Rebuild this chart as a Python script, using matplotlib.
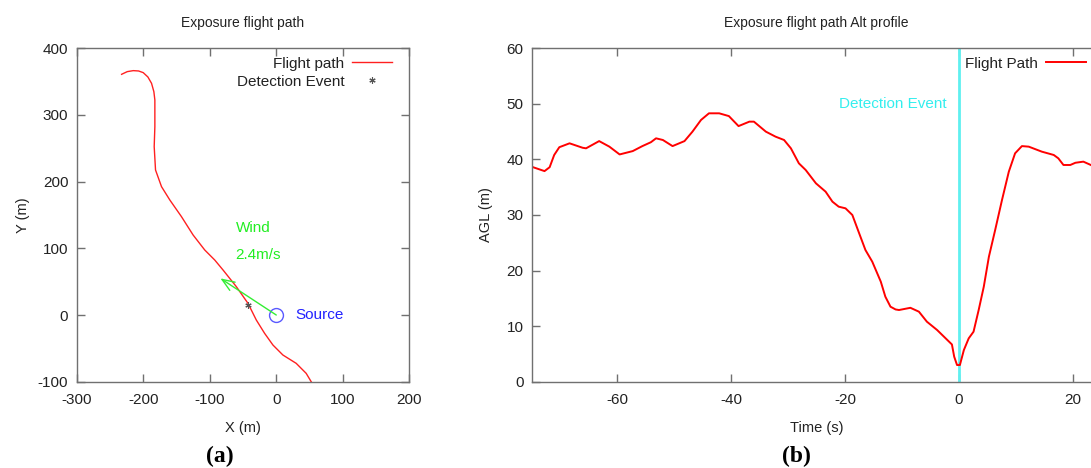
import matplotlib
matplotlib.use("Agg")
import matplotlib.pyplot as plt
from matplotlib.lines import Line2D

plt.rcParams['font.family'] = ['Liberation Sans', 'DejaVu Sans']
plt.rcParams['axes.unicode_minus'] = False

# ---- (a) flight path (x, y in metres) ----
path_x = [-232.5, -224, -215, -207, -200, -193, -187.5, -184, -182.5, -182.5, -183.5, -181.5,
          -172.5, -160, -142.5, -125, -107.5, -92.5, -80, -60, -42.5, -30, -17.5, -5, 10, 30,
          45, 52.5]
path_y = [361, 365, 366.5, 366, 363.5, 357, 347.5, 335, 322.5, 282.5, 252.5, 217.5,
          192.5, 172.5, 147.5, 120, 97.5, 82.5, 67.5, 42.5, 17.5, -7.5, -27.5, -45, -60, -72.5,
          -87.5, -100]
detect_xy = (-42.5, 15)
source_xy = (0, 0)
wind_tip = (-84, 55)
wind_label = "Wind"
wind_speed = "2.4m/s"

# ---- (b) altitude profile ----
t = [-75.1, -72.8, -71.9, -71.1, -70.2, -68.4, -66.1, -65.5, -63.2, -61.4, -59.6, -57.3,
     -55.6, -54.1, -53.2, -52.0, -50.3, -48.2, -46.8, -45.3, -43.9, -42.1, -40.4, -38.7,
     -36.8, -36.0, -33.9, -32.2, -30.7, -29.5, -28.1, -26.9, -25.1, -23.4, -22.2, -21.1,
     -19.9, -18.7, -17.5, -16.4, -15.2, -13.7, -12.9, -12.0, -11.1, -10.5, -8.5, -7.0,
     -5.6, -3.8, -2.6, -1.2, -0.8, -0.3, 0.2, 0.9, 1.75, 2.6, 3.5, 4.4, 5.3, 6.4, 7.6,
     8.8, 9.9, 11.1, 12.3, 14.6, 16.7, 17.5, 18.4, 19.6, 20.5, 21.9, 23.0, 24.0]
agl = [38.7, 37.9, 38.6, 40.8, 42.2, 42.9, 42.1, 42.0, 43.3, 42.3, 40.9, 41.5,
       42.4, 43.1, 43.8, 43.5, 42.4, 43.3, 45.0, 47.1, 48.3, 48.3, 47.8, 46.0,
       46.8, 46.8, 45.0, 44.1, 43.5, 42.0, 39.3, 38.1, 35.7, 34.2, 32.4, 31.5,
       31.2, 30.0, 26.7, 23.7, 21.6, 18.0, 15.3, 13.5, 13.0, 12.9, 13.3, 12.6,
       10.8, 9.3, 8.1, 6.7, 4.5, 3.0, 3.0, 5.7, 7.8, 9.0, 12.9, 17.1, 22.5, 27.3, 32.7,
       37.8, 41.1, 42.4, 42.3, 41.4, 40.8, 40.2, 39.0, 39.0, 39.4, 39.6, 39.1, 38.6]
detect_t = 0

W, H = 1091, 468
fig = plt.figure(figsize=(W / 100, H / 100), dpi=100)

spine_c = '#707070'

def style(ax):
    for s in ax.spines.values():
        s.set_color(spine_c)
        s.set_linewidth(1.0)
    ax.tick_params(direction='in', length=6, width=1, color=spine_c,
                   top=True, right=True, labelsize=11, labelcolor='#222222')
    ax.tick_params(axis='x', pad=8)
    ax.tick_params(axis='y', pad=6)

# ---- left axes ----
ax1 = fig.add_axes([76.7 / W, (H - 381.7) / H, 332.6 / W, 333.4 / H])
style(ax1)
ax1.plot(path_x, path_y, color='#ff2020', lw=1.0)
ax1.plot(*detect_xy, marker=(6, 2, 0), ms=4.5, color='#555555', mew=0.8, ls='none')
ax1.plot(*source_xy, marker='o', ms=10, mfc='none', mec='#5a5aff', mew=1.0, ls='none')
ax1.annotate('', xy=wind_tip, xytext=source_xy,
             arrowprops=dict(arrowstyle='->,head_length=0.9,head_width=0.35',
                             color='#33ee33', lw=1.0, shrinkA=0, shrinkB=0))
ax1.text(-61, 130, wind_label, color='#22ee22', fontsize=11, va='center', ha='left')
ax1.text(-61, 90, wind_speed, color='#22ee22', fontsize=11, va='center', ha='left')
ax1.text(28, 0, 'Source', color='#2222ff', fontsize=11, va='center', ha='left')
ax1.set_xlim(-300, 200)
ax1.set_ylim(-100, 400)
ax1.set_xticks([-300, -200, -100, 0, 100, 200])
ax1.set_yticks([-100, 0, 100, 200, 300, 400])
ax1.set_title('Exposure flight path', fontsize=10, pad=15, color='#222222')
ax1.set_xlabel('X (m)', fontsize=10.5, labelpad=10, color='#222222')
ax1.set_ylabel('Y (m)', fontsize=10.5, labelpad=6, color='#222222')
h1 = [Line2D([], [], color='#ff2020', lw=1.0),
      Line2D([], [], marker=(6, 2, 0), ms=4.5, color='#555555', mew=0.8, ls='none')]
ax1.legend(h1, ['Flight path', 'Detection Event'], loc='upper right', frameon=False,
           bbox_to_anchor=(1 - 9 / 332.6, 1.0),
           markerfirst=False, fontsize=11, handlelength=2.6, handletextpad=0.5,
           borderaxespad=0.15, labelspacing=0.25, labelcolor='#222222')

# ---- right axes ----
ax2 = fig.add_axes([532 / W, (H - 381.7) / H, 569 / W, 333.4 / H])
style(ax2)
ax2.axvline(detect_t, color='#5ff0f0', lw=2.0)
ax2.plot(t, agl, color='#ff0000', lw=1.4, label='Flight Path')
ax2.text(-2.1, 50, 'Detection Event', color='#33eeee', fontsize=11, ha='right', va='center')
ax2.set_xlim(-75, 25)
ax2.set_ylim(0, 60)
ax2.set_xticks([-60, -40, -20, 0, 20])
ax2.set_yticks([0, 10, 20, 30, 40, 50, 60])
ax2.set_title('Exposure flight path Alt profile', fontsize=10, pad=15, color='#222222')
ax2.set_xlabel('Time (s)', fontsize=10.5, labelpad=10, color='#222222')
ax2.set_ylabel('AGL (m)', fontsize=10.5, labelpad=10, color='#222222')
ax2.legend(loc='upper right', frameon=False, markerfirst=False, fontsize=11,
           bbox_to_anchor=(1 - 7 / 569, 1.0),
           handlelength=2.6, handletextpad=0.5, borderaxespad=0.15, labelcolor='#222222')

fig.text(220 / W, 1 - 456 / H, '(a)', fontsize=17, fontweight='bold',
         family=['Liberation Serif', 'DejaVu Serif'], ha='center', va='center')
fig.text(796 / W, 1 - 456 / H, '(b)', fontsize=17, fontweight='bold',
         family=['Liberation Serif', 'DejaVu Serif'], ha='center', va='center')

fig.savefig('out.png', dpi=100)
